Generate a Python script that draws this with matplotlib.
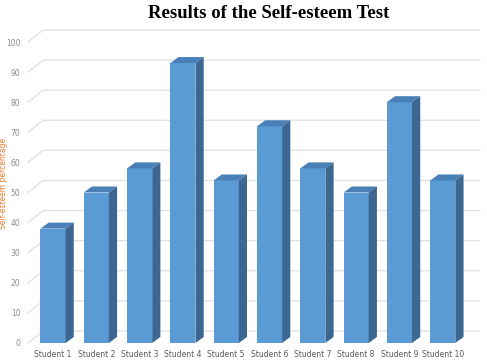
import matplotlib
matplotlib.use("Agg")
import matplotlib.pyplot as plt
from matplotlib.patches import Polygon

categories = ["Student 1", "Student 2", "Student 3", "Student 4", "Student 5",
              "Student 6", "Student 7", "Student 8", "Student 9", "Student 10"]
values = [38, 50, 58, 93, 54, 72, 58, 50, 80, 54]
yticks = [0, 10, 20, 30, 40, 50, 60, 70, 80, 90, 100]

W, H = 487, 360
fig = plt.figure(figsize=(W / 100, H / 100), dpi=100)
ax = fig.add_axes([28 / W, 17 / H, (480 - 28) / W, (318 - 17) / H])
xmin, xmax = -0.577, 9.86
ax.set_xlim(xmin, xmax)
ax.set_ylim(0, 100)
for s in ax.spines.values():
    s.set_visible(False)

front = "#5b9bd5"
top_c = "#4a80b8"
side_c = "#3b6792"
grid_c = "#e0e0e0"

# back-wall gridlines
gdx, gdy = 0.35, 4.0
for v in yticks:
    ax.plot([xmin, xmin + gdx, xmax], [v, v + gdy, v + gdy], color=grid_c,
            lw=0.9, clip_on=False, zorder=1)

bw = 0.58
ddx, ddy = 0.19, 2.0
xs = range(len(categories))
ax.bar(list(xs), values, width=bw, color=front, zorder=3, linewidth=0)
for x, v in zip(xs, values):
    l, r = x - bw / 2, x + bw / 2
    ax.add_patch(Polygon([(l, v), (r, v), (r + ddx, v + ddy), (l + ddx, v + ddy)],
                         closed=True, facecolor=top_c, edgecolor="none", zorder=3,
                         clip_on=False))
    ax.add_patch(Polygon([(r, 0), (r + ddx, ddy), (r + ddx, v + ddy), (r, v)],
                         closed=True, facecolor=side_c, edgecolor="none", zorder=3,
                         clip_on=False))

ax.set_yticks(yticks)
ax.set_yticklabels([str(t) for t in yticks], color="#8c8c8c", fontsize=5.5)
ax.tick_params(axis="y", length=0, pad=5.5)
ax.set_xticks(list(xs))
ax.set_xticklabels(categories, color="#595959", fontsize=5.5)
ax.tick_params(axis="x", length=0, pad=5)

fig.text(3.5 / W, 0.49, "Self-esteem percentage", rotation=90, color="#ed7d31",
         fontsize=5.5, ha="center", va="center")
fig.text(269 / W, 1 - 13 / H, "Results of the Self-esteem Test",
         family="Liberation Serif", weight="bold", fontsize=13.5,
         ha="center", va="center")

fig.savefig("out.png", dpi=100)
